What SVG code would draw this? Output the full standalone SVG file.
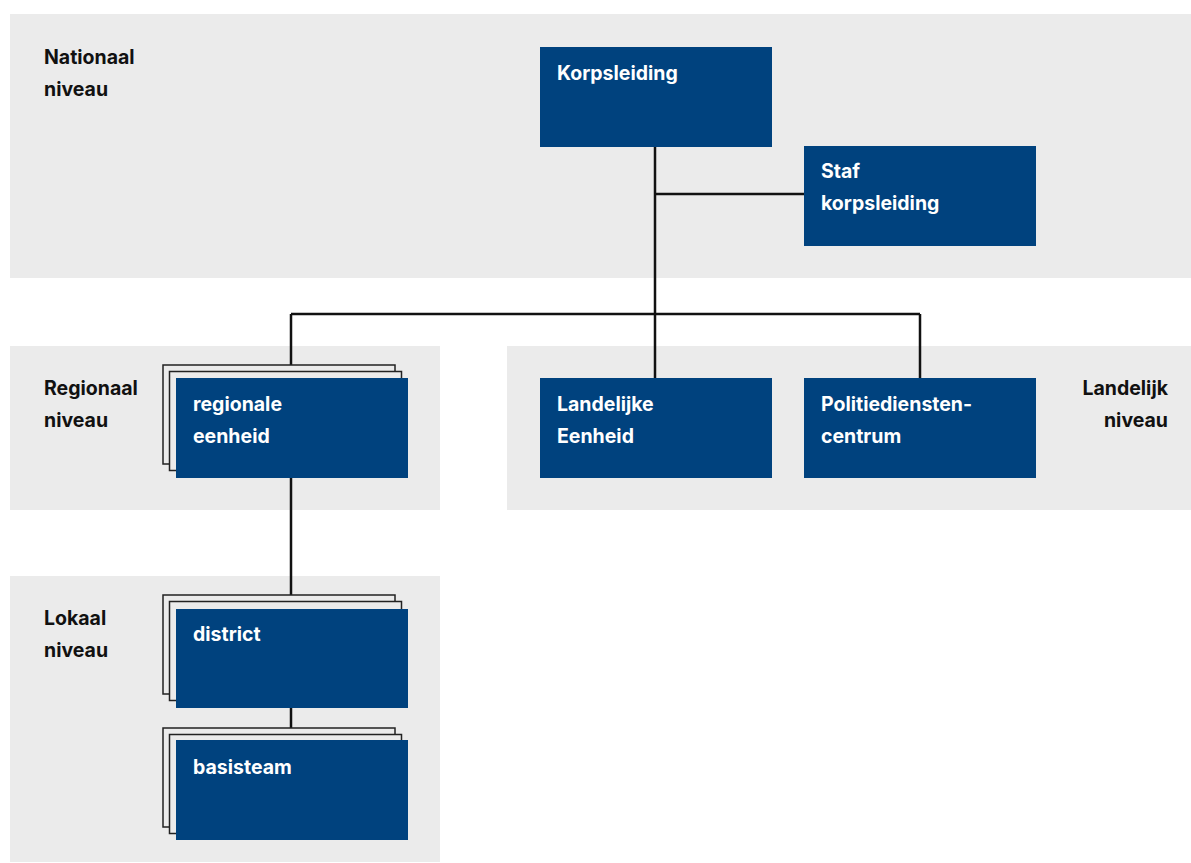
<svg xmlns="http://www.w3.org/2000/svg" width="1191" height="863" viewBox="0 0 1191 863">
<style>
.bg{fill:#ebebeb}
.box{fill:#00427e}
.frame{fill:#ebebeb;stroke:#222;stroke-width:1.5}
.nt{font-family:Inter,"Liberation Sans",sans-serif;font-weight:bold;font-size:19.5px;fill:#ffffff}
.lt{font-family:Inter,"Liberation Sans",sans-serif;font-weight:bold;font-size:19.5px;fill:#111111}
.ln{stroke:#111;stroke-width:2.5;fill:none}
</style>
<rect width="1191" height="863" fill="#ffffff"/>
<g id="levels">
<rect class="bg" x="10" y="14" width="1181" height="264"/>
<rect class="bg" x="10" y="346" width="430" height="164"/>
<rect class="bg" x="507" y="346" width="684" height="164"/>
<rect class="bg" x="10" y="576" width="430" height="286"/>
<text class="lt" x="44" y="64">Nationaal</text>
<text class="lt" x="44" y="96">niveau</text>
<text class="lt" x="44" y="395">Regionaal</text>
<text class="lt" x="44" y="427">niveau</text>
<text class="lt" x="1168" y="395" text-anchor="end">Landelijk</text>
<text class="lt" x="1168" y="427" text-anchor="end">niveau</text>
<text class="lt" x="44" y="625">Lokaal</text>
<text class="lt" x="44" y="657">niveau</text>
</g>
<g id="connectors">
<path class="ln" d="M655 147V378M655 194H804M291 314H920M291 314V378M920 314V378M291 478V595M291 708V728"/>
</g>
<g id="korpsleiding">
<rect class="box" x="540" y="47" width="232" height="100"/>
<text class="nt" x="557" y="80">Korpsleiding</text>
</g>
<g id="staf">
<rect class="box" x="804" y="146" width="232" height="100"/>
<text class="nt" x="821" y="178">Staf</text>
<text class="nt" x="821" y="210">korpsleiding</text>
</g>
<g id="regionale-eenheid">
<rect class="frame" x="163" y="365" width="232" height="99"/>
<rect class="frame" x="169.5" y="371.5" width="232" height="99"/>
<rect class="box" x="176" y="378" width="232" height="100"/>
<text class="nt" x="193" y="411">regionale</text>
<text class="nt" x="193" y="443">eenheid</text>
</g>
<g id="landelijke-eenheid">
<rect class="box" x="540" y="378" width="232" height="100"/>
<text class="nt" x="557" y="411">Landelijke</text>
<text class="nt" x="557" y="443">Eenheid</text>
</g>
<g id="pdc">
<rect class="box" x="804" y="378" width="232" height="100"/>
<text class="nt" x="821" y="411">Politiediensten-</text>
<text class="nt" x="821" y="443">centrum</text>
</g>
<g id="district">
<rect class="frame" x="163" y="595" width="232" height="99"/>
<rect class="frame" x="169.5" y="601.5" width="232" height="99"/>
<rect class="box" x="176" y="609" width="232" height="99"/>
<text class="nt" x="193" y="641">district</text>
</g>
<g id="basisteam">
<rect class="frame" x="163" y="728" width="232" height="99"/>
<rect class="frame" x="169.5" y="734.5" width="232" height="99"/>
<rect class="box" x="176" y="740" width="232" height="100"/>
<text class="nt" x="193" y="774">basisteam</text>
</g>
</svg>
